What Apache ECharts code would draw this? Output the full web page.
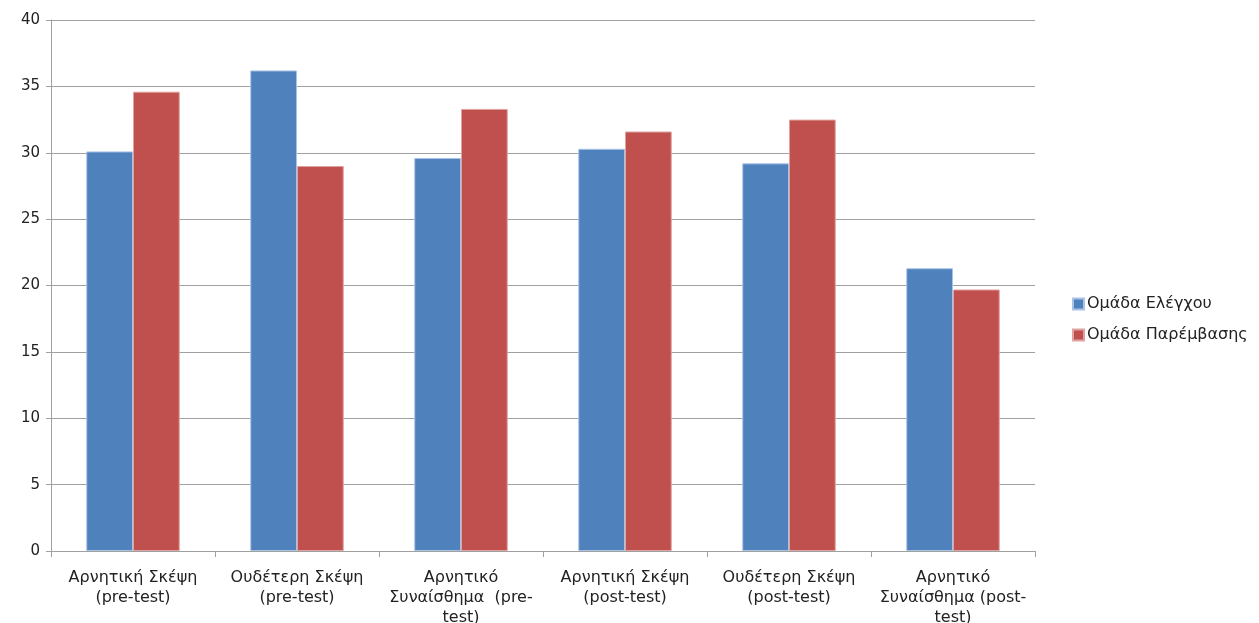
<!DOCTYPE html>
<html>
<head>
<meta charset="utf-8">
<script src="https://cdn.jsdelivr.net/npm/echarts@6/dist/echarts.min.js"></script>
<style>
html,body{margin:0;padding:0;background:#fff;}
#c{width:1259px;height:623px;}
</style>
</head>
<body>
<div id="c"></div>
<script>
const categories = [
  "Αρνητική Σκέψη\n(pre-test)",
  "Ουδέτερη Σκέψη\n(pre-test)",
  "Αρνητικό\nΣυναίσθημα  (pre-\ntest)",
  "Αρνητική Σκέψη\n(post-test)",
  "Ουδέτερη Σκέψη\n(post-test)",
  "Αρνητικό\nΣυναίσθημα (post-\ntest)"
];
const controlGroup = [30.1, 36.2, 29.6, 30.3, 29.2, 21.3];
const interventionGroup = [34.6, 29.0, 33.3, 31.6, 32.5, 19.7];
const seriesNames = ["Ομάδα Ελέγχου", "Ομάδα Παρέμβασης"];

const chart = echarts.init(document.getElementById('c'));
const font = "'DejaVu Sans', 'Noto Sans', sans-serif";
chart.setOption({
  animation: false,
  textStyle: {fontFamily: font},
  grid: {left: 51, right: 224, top: 20, bottom: 72, containLabel: false, outerBoundsMode: 'none'},
  legend: {
    orient: 'vertical',
    left: 1067,
    top: 291,
    itemWidth: 11,
    itemHeight: 11,
    itemGap: 15,
    icon: 'rect',
    textStyle: {fontFamily: font, fontSize: 16, color: '#222', padding: [0,0,0,-2]},
    data: seriesNames
  },
  xAxis: {
    type: 'category',
    data: categories,
    axisLine: {lineStyle: {color: '#a0a0a0', width: 1}},
    axisTick: {show: true, length: 6, lineStyle: {color: '#a0a0a0'}},
    axisLabel: {fontFamily: font, fontSize: 16, color: '#222', lineHeight: 20, margin: 17, interval: 0}
  },
  yAxis: {
    type: 'value',
    min: 0, max: 40, interval: 5,
    axisLine: {show: true, lineStyle: {color: '#a0a0a0', width: 1}},
    axisTick: {show: true, length: 5, lineStyle: {color: '#a0a0a0'}},
    splitLine: {lineStyle: {color: '#a0a0a0', width: 1}},
    axisLabel: {fontFamily: font, fontSize: 15, color: '#222', margin: 11}
  },
  series: [
    {
      name: seriesNames[0], type: 'bar', data: controlGroup,
      barGap: '0%', barCategoryGap: '43%',
      itemStyle: {color: '#4F81BD', borderColor: '#a9c3e6', borderWidth: 1}
    },
    {
      name: seriesNames[1], type: 'bar', data: interventionGroup,
      itemStyle: {color: '#C0504D', borderColor: '#e0a3a1', borderWidth: 1}
    }
  ]
});
</script>
</body>
</html>
